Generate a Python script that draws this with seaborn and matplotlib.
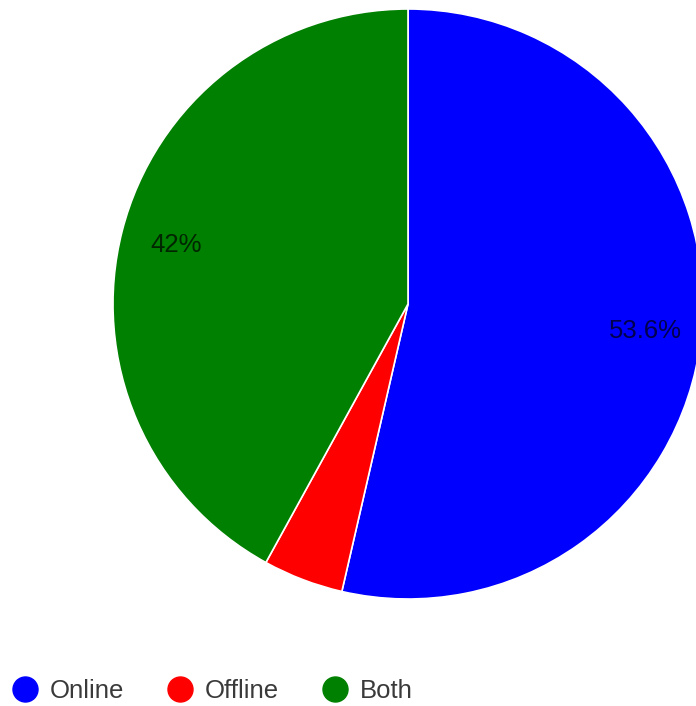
import matplotlib
matplotlib.use("Agg")
import matplotlib.pyplot as plt
from matplotlib.lines import Line2D
import seaborn as sns

categories = ["Online", "Offline", "Both"]
shares = [53.6, 4.4, 42]
colors = ["#0000ff", "#ff0000", "#008000"]

sns.set_style("white")
plt.rcParams["font.family"] = ["Liberation Sans", "DejaVu Sans"]
palette = sns.color_palette(colors)

W, H = 696, 706
FS = 18.5
fig = plt.figure(figsize=(W / 100, H / 100), dpi=100)
ax = fig.add_axes([0, 0, 1, 1])

labels_iter = iter(shares)


def pct_label(p):
    # small slices are left unlabelled
    v = next(labels_iter)
    return f"{v:g}%" if p >= 5 else ""


wedges, _, autotexts = ax.pie(
    shares,
    colors=palette,
    center=(408, H - 304),
    radius=295,
    startangle=90,
    counterclock=False,
    autopct=pct_label,
    pctdistance=0.81,
    wedgeprops=dict(edgecolor="white", linewidth=1.2),
    textprops=dict(fontsize=FS, color="black", alpha=0.7),
    frame=True,
)
ax.set_xlim(0, W)
ax.set_ylim(0, H)
ax.set_aspect("equal")
ax.axis("off")

handles = [
    Line2D([0], [0], marker="o", linestyle="none", markersize=18,
           markerfacecolor=c, markeredgecolor=c)
    for c in palette
]
fig.legend(
    handles, categories,
    loc="center left",
    bbox_to_anchor=(12 / W, 1 - 691 / H),
    ncol=3,
    frameon=False,
    fontsize=FS,
    handlelength=1.0,
    handletextpad=0.47,
    columnspacing=1.68,
    borderaxespad=0,
    borderpad=0,
    labelcolor="#3a3a3a",
)

fig.savefig("out.png", dpi=100)
